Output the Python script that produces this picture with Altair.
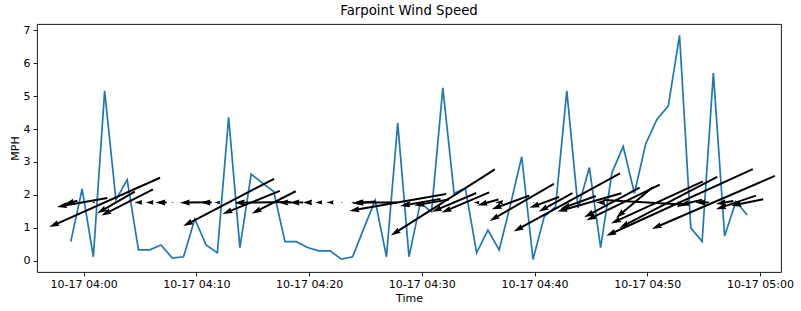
import math
import altair as alt
import numpy as np
import pandas as pd

# ---------------- data ----------------
start_time = "2023-10-17 03:58:52"
speeds = [0.58, 2.18, 0.12, 5.16, 1.85, 2.46, 0.33, 0.33, 0.48, 0.08,
          0.12, 1.27, 0.48, 0.24, 4.36, 0.40, 2.63, 2.36, 2.10, 0.58,
          0.58, 0.40, 0.30, 0.30, 0.05, 0.12, 0.99, 1.83, 0.12, 4.18,
          0.12, 1.75, 1.49, 5.25, 2.05, 2.20, 0.24, 0.93, 0.33, 1.70,
          3.16, 0.04, 1.34, 1.64, 5.16, 1.60, 2.83, 0.40, 2.67, 3.47,
          2.05, 3.55, 4.30, 4.70, 6.85, 1.00, 0.58, 5.70, 0.75, 1.80, 1.39]
# direction each arrow points (degrees, counter-clockwise from east)
arrow_dir = [195, 190, 180, 204, 210, 207, 180, 180, 180, 180,
             180, 181, 180, 180, 207.5, 180, 202, 181, 207, 180,
             180, 180, 180, 180, 180, 180, 185, 180, 180, 190,
             180, 190, 190, 212.5, 203, 203, 180, 196, 180, 200,
             210, 180, 200, 209, 208.7, 200, 196, 180, 208, 206,
             220, 356.6, 204.6, 207.6, 204.5, 194, 180, 203.3, 190, 198.8, 191.5]
tick_minutes = [0, 10, 20, 30, 40, 50, 60]
y_ticks = [0, 1, 2, 3, 4, 5, 6, 7]

# ---------------- layout / style ----------------
W, H = 744, 248
PX_PER_MPH = 23.5      # quiver length scale (pixels per MPH)
HEAD = 10.0            # arrow head length in pixels
FONT = "DejaVu Sans"

times = pd.date_range(start_time, periods=len(speeds), freq="min")
ref = pd.Timestamp("2023-10-17 04:00:00")
minutes = ((times - ref).total_seconds() / 60.0).to_numpy()

span = minutes[-1] - minutes[0]
xdom = [minutes[0] - 0.05 * span, minutes[-1] + 0.05 * span]
ydom = [-0.05 * max(speeds), 1.05 * max(speeds)]
kx = W / (xdom[1] - xdom[0])
ky = H / (ydom[1] - ydom[0])
y0 = float(np.mean(speeds))

line_df = pd.DataFrame({"m": minutes, "speed": speeds})

rows = []
for m, s, d in zip(minutes, speeds, arrow_dir):
    L = PX_PER_MPH * s
    ux, uy = math.cos(math.radians(d)), math.sin(math.radians(d))
    hl = min(HEAD, L)
    tail = (-L / 2 * ux, -L / 2 * uy)
    tip = (L / 2 * ux, L / 2 * uy)
    base = (tip[0] - 0.5 * hl * ux, tip[1] - 0.5 * hl * uy)
    rows.append({
        "x_tail": m + tail[0] / kx, "y_tail": y0 + tail[1] / ky,
        "x_base": m + base[0] / kx, "y_base": y0 + base[1] / ky,
        "x_tip": m + tip[0] / kx, "y_tip": y0 + tip[1] / ky,
        "shaft": bool(L > HEAD),
        "hsize": max(hl, 1.6) ** 2,
        "angle": (360 - d) % 360,
    })
arr_df = pd.DataFrame(rows)

xscale = alt.Scale(domain=xdom, nice=False, zero=False)
yscale = alt.Scale(domain=ydom, nice=False, zero=False)

label_expr = "'10-17 ' + timeFormat(datetime(2023, 9, 17, 4, datum.value, 0), '%H:%M')"
xaxis = alt.Axis(values=tick_minutes, labelExpr=label_expr, title="Time", grid=False)
yaxis = alt.Axis(values=y_ticks, format="d", title="MPH", grid=False)

line = alt.Chart(line_df).mark_line(color="#1f77b4", strokeWidth=1.7).encode(
    x=alt.X("m:Q", scale=xscale, axis=xaxis),
    y=alt.Y("speed:Q", scale=yscale, axis=yaxis),
)

shafts = alt.Chart(arr_df).transform_filter("datum.shaft").mark_rule(
    color="black", strokeWidth=2, strokeCap="butt"
).encode(
    x=alt.X("x_tail:Q", scale=xscale, axis=xaxis),
    y=alt.Y("y_tail:Q", scale=yscale, axis=yaxis),
    x2="x_base:Q",
    y2="y_base:Q",
)

heads = alt.Chart(arr_df).mark_point(
    shape="M0,0 L-2,-0.6 L-1.8,0 L-2,0.6 Z", filled=True, color="black",
    opacity=1, strokeWidth=0
).encode(
    x=alt.X("x_tip:Q", scale=xscale, axis=xaxis),
    y=alt.Y("y_tip:Q", scale=yscale, axis=yaxis),
    size=alt.Size("hsize:Q", scale=None, legend=None),
    angle=alt.Angle("angle:Q", scale=None),
)

chart = alt.layer(line, shafts, heads).properties(
    width=W, height=H,
    background="white",
    title=alt.TitleParams("Farpoint Wind Speed", font=FONT, fontSize=13.3,
                          fontWeight="normal", color="black", offset=6.5),
    autosize=alt.AutoSizeParams(type="none"),
    padding={"left": 37, "top": 24, "right": 20, "bottom": 39},
).configure_view(
    stroke="black", strokeWidth=0.9
).configure_axis(
    domain=False, grid=False,
    tickColor="black", tickSize=3.9, tickWidth=0.9,
    labelFont=FONT, labelFontSize=11, labelColor="black", labelPadding=3,
    titleFont=FONT, titleFontSize=11, titleFontWeight="normal", titleColor="black",
    titlePadding=3,
)

chart.save("out.html", embed_options={"renderer": "svg", "actions": False})
